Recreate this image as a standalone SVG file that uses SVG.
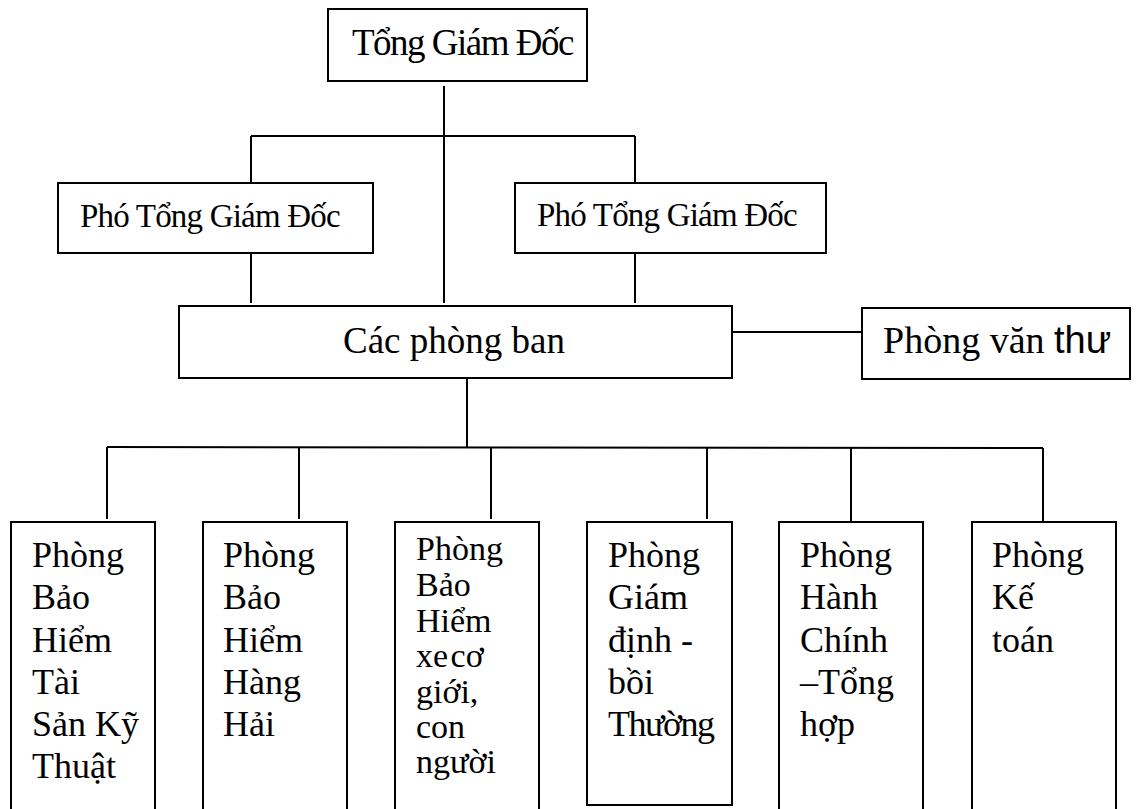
<svg xmlns="http://www.w3.org/2000/svg" width="1138" height="809" viewBox="0 0 1138 809">
<style>
.box{fill:#fff;stroke:#000;stroke-width:2}
.ln{stroke:#000;stroke-width:2;fill:none}
text{font-family:"Liberation Serif","Times New Roman",serif;fill:#000}
.t36{font-size:36px}
.t34{font-size:34px}
.sans{font-family:"Liberation Sans",Arial,sans-serif}
</style>
<rect x="0" y="0" width="1138" height="809" fill="#fff"/>
<g id="connectors">
<line class="ln" x1="444" y1="86" x2="444" y2="303"/>
<line class="ln" x1="251" y1="136" x2="635" y2="136"/>
<line class="ln" x1="251" y1="136" x2="251" y2="183"/>
<line class="ln" x1="635" y1="136" x2="635" y2="183"/>
<line class="ln" x1="251" y1="253" x2="251" y2="303"/>
<line class="ln" x1="635" y1="253" x2="635" y2="303"/>
<line class="ln" x1="732" y1="332" x2="862" y2="332"/>
<line class="ln" x1="467" y1="378" x2="467" y2="447"/>
<line class="ln" x1="107" y1="447" x2="1043" y2="448"/>
<line class="ln" x1="107" y1="447" x2="107" y2="519"/>
<line class="ln" x1="299" y1="447" x2="299" y2="519"/>
<line class="ln" x1="491" y1="447" x2="491" y2="519"/>
<line class="ln" x1="707" y1="448" x2="707" y2="519"/>
<line class="ln" x1="851" y1="448" x2="851" y2="521"/>
<line class="ln" x1="1043" y1="448" x2="1043" y2="521"/>
</g>
<g id="tong-giam-doc">
<rect class="box" x="328" y="9" width="259" height="72"/>
<text x="352" y="55" font-size="37" letter-spacing="-1.5">Tổng Giám Đốc</text>
</g>
<g id="pho-tgd-1">
<rect class="box" x="58" y="183" width="315" height="70"/>
<text x="80" y="227" font-size="33" letter-spacing="-0.8">Phó Tổng Giám Đốc</text>
</g>
<g id="pho-tgd-2">
<rect class="box" x="515" y="183" width="311" height="70"/>
<text x="537" y="226" font-size="33" letter-spacing="-0.8">Phó Tổng Giám Đốc</text>
</g>
<g id="cac-phong-ban">
<rect class="box" x="179" y="306" width="553" height="72"/>
<text x="343" y="353" font-size="37">Các phòng ban</text>
</g>
<g id="phong-van-thu">
<rect class="box" x="862" y="308" width="268" height="71"/>
<text x="883" y="353" font-size="38">Phòng văn <tspan class="sans">thư</tspan></text>
</g>
<g id="p1">
<rect class="box" x="11" y="522" width="144" height="300"/>
<text class="t36" x="32"><tspan x="32" y="567">Phòng</tspan><tspan x="32" y="609">Bảo</tspan><tspan x="32" y="652">Hiểm</tspan><tspan x="32" y="694">Tài</tspan><tspan x="32" y="736">Sản Kỹ</tspan><tspan x="32" y="778">Thuật</tspan></text>
</g>
<g id="p2">
<rect class="box" x="203" y="522" width="144" height="300"/>
<text class="t36"><tspan x="223" y="567">Phòng</tspan><tspan x="223" y="609">Bảo</tspan><tspan x="223" y="652">Hiểm</tspan><tspan x="223" y="694">Hàng</tspan><tspan x="223" y="736">Hải</tspan></text>
</g>
<g id="p3">
<rect class="box" x="395" y="522" width="144" height="300"/>
<text class="t34"><tspan x="416" y="560">Phòng</tspan><tspan x="416" y="596">Bảo</tspan><tspan x="416" y="632">Hiểm</tspan><tspan x="416" y="667" word-spacing="-6">xe cơ</tspan><tspan x="416" y="703">giới,</tspan><tspan x="416" y="738">con</tspan><tspan x="416" y="773">người</tspan></text>
</g>
<g id="p4">
<rect class="box" x="587" y="522" width="145" height="283"/>
<text class="t36"><tspan x="608" y="567">Phòng</tspan><tspan x="608" y="609">Giám</tspan><tspan x="608" y="652">định -</tspan><tspan x="608" y="694">bồi</tspan><tspan x="608" y="736" letter-spacing="-1.5">Thường</tspan></text>
</g>
<g id="p5">
<rect class="box" x="779" y="522" width="144" height="300"/>
<text class="t36"><tspan x="800" y="567">Phòng</tspan><tspan x="800" y="609">Hành</tspan><tspan x="800" y="652">Chính</tspan><tspan x="800" y="694">–Tổng</tspan><tspan x="800" y="736">hợp</tspan></text>
</g>
<g id="p6">
<rect class="box" x="972" y="522" width="144" height="300"/>
<text class="t36"><tspan x="992" y="567">Phòng</tspan><tspan x="992" y="609">Kế</tspan><tspan x="992" y="652">toán</tspan></text>
</g>
</svg>
